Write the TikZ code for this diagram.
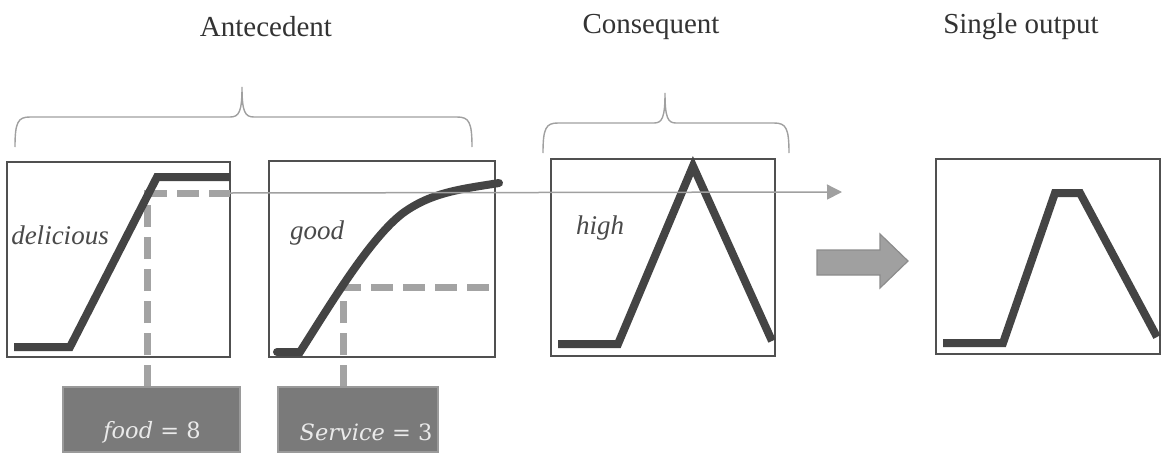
\documentclass[tikz,border=0pt]{standalone}
\usepackage{fontspec}
\setmainfont{Liberation Serif}
\newfontfamily\boxfont{DejaVu Serif}
\usetikzlibrary{arrows.meta}
\definecolor{curvec}{HTML}{444444}
\definecolor{framec}{HTML}{505050}
\definecolor{dashc}{HTML}{A3A3A3}
\definecolor{bracec}{HTML}{A0A0A0}
\definecolor{thinc}{HTML}{A0A0A0}
\definecolor{inboxc}{HTML}{7A7A7A}
\definecolor{inboxb}{HTML}{9A9A9A}
\definecolor{bigarrc}{HTML}{A0A0A0}
\definecolor{bigarrb}{HTML}{8C8C8C}
\definecolor{titlec}{HTML}{333333}
\definecolor{labelc}{HTML}{4A4A4A}
\definecolor{intextc}{HTML}{EAEAEA}
\begin{document}
\begin{tikzpicture}[x=1pt,y=-1pt,
  frame/.style={draw=framec, line width=2pt, inner sep=0pt, fill=white},
  mf/.style={draw=curvec, line width=8pt, line join=miter},
  guide/.style={draw=dashc, line width=7pt, dash pattern=on 22pt off 10pt},
  brace/.style={draw=bracec, line width=1.4pt},
  title/.style={text=titlec, font=\fontsize{29}{34}\selectfont, inner sep=0pt},
  setlbl/.style={text=labelc, font=\itshape\fontsize{27}{32}\selectfont, inner sep=0pt},
  inbox/.style={draw=inboxb, fill=inboxc, line width=1.5pt, inner sep=0pt},
  intext/.style={text=intextc, font=\boxfont\fontsize{22.5}{27}\selectfont, inner sep=0pt},
  thinarrow/.style={draw=thinc, line width=1.5pt, -{Triangle[length=15pt,width=15pt]}}
]
\useasboundingbox (0,0) rectangle (1170,453);

% titles
\node[title] (tA) at (266,27) {Antecedent};
\node[title] (tC) at (651,27) {Consequent};
\node[title] (tS) at (1021,27) {Single output};

% braces
\draw[brace] (15,147) .. controls (15,122) and (18,117) .. (30,117) -- (230,117)
  .. controls (239,117) and (242,112) .. (242,87)
  .. controls (242,112) and (245,117) .. (254,117) -- (457,117)
  .. controls (469,117) and (472,122) .. (472,147);
\draw[brace] (543,153) .. controls (543,128) and (546,123) .. (558,123) -- (654,123)
  .. controls (662,123) and (665,118) .. (665,93)
  .. controls (665,118) and (668,123) .. (676,123) -- (774,123)
  .. controls (786,123) and (789,128) .. (789,153);

% frames
\node[frame, minimum width=223pt, minimum height=195pt] (f1) at (118.5,259.5) {};
\node[frame, minimum width=226pt, minimum height=196pt] (f2) at (382,259) {};
\node[frame, minimum width=224pt, minimum height=197pt] (f3) at (663,257.5) {};
\node[frame, minimum width=224pt, minimum height=195pt] (f4) at (1048,256.5) {};

% guide coordinates
\coordinate (g1) at (147,193);
\coordinate (g1r) at (230,193);
\coordinate (g2) at (343,287);
\coordinate (g2r) at (495,287);
\coordinate (tip) at (842,192);

% dashed guides
\draw[guide] (147,387) -- (g1) -- (g1r);
\draw[guide] (343,387) -- (g2) -- (g2r);

% membership functions
\draw[mf] (14,347) -- (70,347) -- (157,177) -- (230,177);
\draw[mf, line cap=round] (277,352) -- (300,352) .. controls (330,305) and (370,238) .. (403,213)
  .. controls (432,192) and (462,189) .. (499,183);
\draw[mf] (558,344) -- (618,344) -- (693,166) -- (772,341);
\draw[mf] (943,343) -- (1003,343) -- (1055,193) -- (1080,193) -- (1157,337);

% thin arrow
\draw[thinarrow] (g1r) -- (tip);

% labels in frames
\node[setlbl] (l1) at (60,235) {delicious};
\node[setlbl] (l2) at (317,233) {good};
\node[setlbl] (l3) at (600,228) {high};

% big arrow
\draw[fill=bigarrc, draw=bigarrb, line width=1.2pt]
  (817,250) -- (880,250) -- (880,234) -- (908,261) -- (880,288) -- (880,275) -- (817,275) -- cycle;

% input boxes
\node[inbox, minimum width=177pt, minimum height=65pt] (b1) at (151.5,419.5) {};
\node[inbox, minimum width=160pt, minimum height=65pt] (b2) at (358,419.5) {};
\node[intext] (bt1) at (152,432) {\textit{food} = 8};
\node[intext] (bt2) at (366,432) {\textit{Service} = 3};
\end{tikzpicture}
\end{document}
